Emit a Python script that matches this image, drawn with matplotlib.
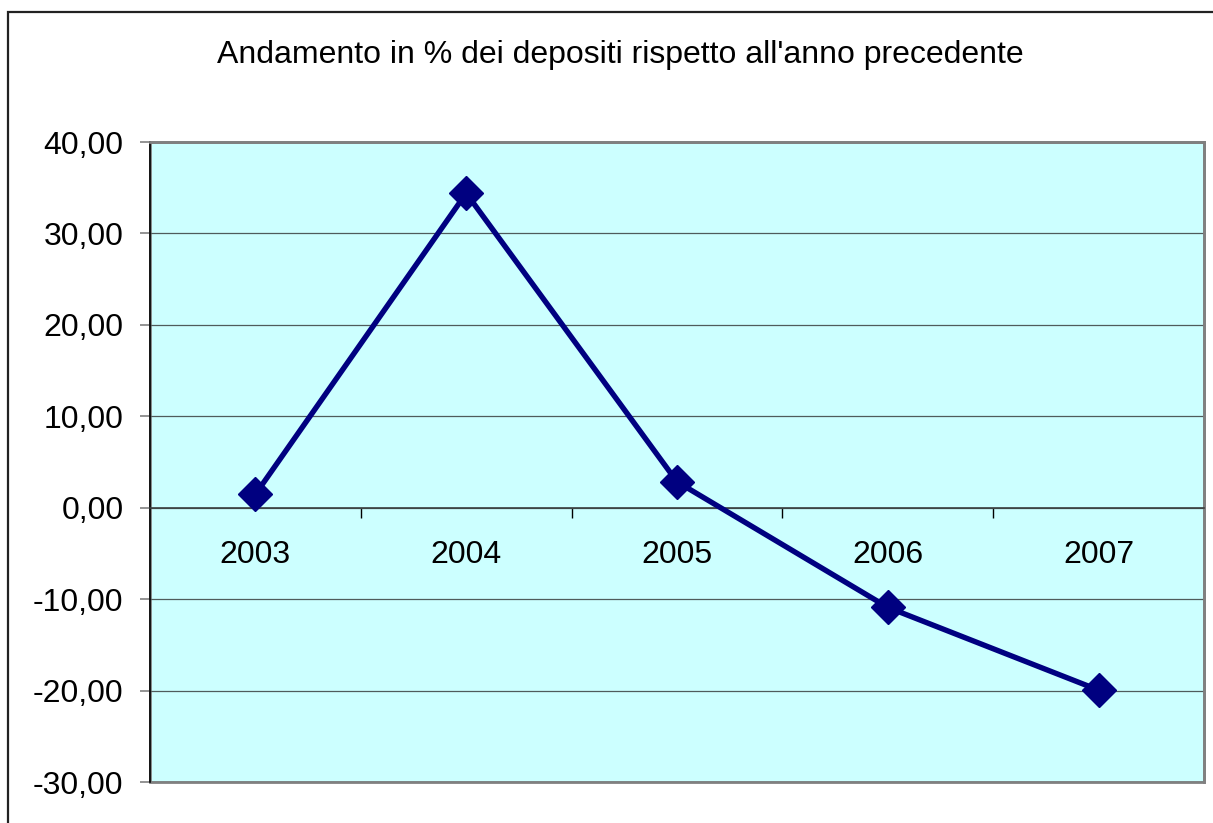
import matplotlib
matplotlib.use('Agg')
import matplotlib.pyplot as plt
from matplotlib.patches import Rectangle
from matplotlib.ticker import FuncFormatter

plt.rcParams['font.family'] = ['Liberation Sans', 'DejaVu Sans']

# data
years = ['2003', '2004', '2005', '2006', '2007']
variazione = [1.47, 34.4, 2.84, -10.9, -19.95]
y_ticks = [-30, -20, -10, 0, 10, 20, 30, 40]

fig = plt.figure(figsize=(12.13, 8.23), dpi=100)

# outer chart border
fig.patches.append(Rectangle((8 / 1213, -0.1), 1.2, 1 - 12 / 823 + 0.1,
                             transform=fig.transFigure, fill=False,
                             edgecolor='#222222', linewidth=1.6))

ax = fig.add_axes([150 / 1213, 1 - 782 / 823, 1054 / 1213, 640 / 823])
ax.set_facecolor('#CCFFFF')
ax.patch.set_edgecolor('#808080')
ax.patch.set_linewidth(2)

x = list(range(len(years)))
ax.plot(x, variazione, color='#000080', linewidth=3.9, marker='D',
        markersize=17, zorder=5, clip_on=False)

ax.set_xlim(-0.5, len(years) - 0.5)
ax.set_ylim(-30, 40)
ax.set_yticks(y_ticks)
ax.yaxis.set_major_formatter(FuncFormatter(lambda v, p: f'{v:.2f}'.replace('.', ',')))
ax.grid(axis='y', color='#4f5b5b', linewidth=0.9)
ax.set_axisbelow(True)

# category axis crosses at zero
ax.spines['bottom'].set_position(('data', 0))
ax.spines['bottom'].set_color('#3a4040')
ax.spines['bottom'].set_linewidth(1.2)
ax.spines['left'].set_color('black')
ax.spines['left'].set_linewidth(1.2)
for s in ['top', 'right']:
    ax.spines[s].set_color('#808080')
    ax.spines[s].set_linewidth(2)

ax.set_xticks([i + 0.5 for i in range(len(years) - 1)])
ax.set_xticklabels([])
ax.set_xticks(x, minor=True)
ax.set_xticklabels(years, minor=True)
ax.tick_params(axis='x', which='major', direction='out', length=7, width=1, color='black')
ax.tick_params(axis='x', which='minor', length=0, pad=23, labelsize=23)
ax.tick_params(axis='y', direction='out', length=7, width=1.2, color='#808080',
               pad=12, labelsize=23)

fig.text(620 / 1213, 1 - 55 / 823, "Andamento in % dei depositi rispetto all'anno precedente",
         ha='center', va='center', fontsize=23)

fig.savefig('out.png', dpi=100)
